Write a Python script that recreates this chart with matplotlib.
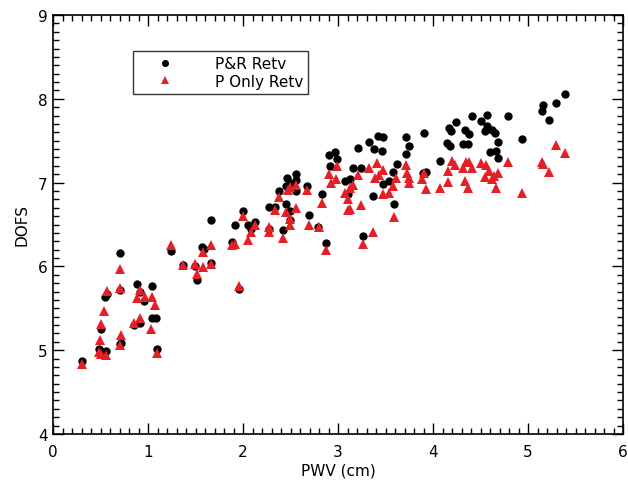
import matplotlib
matplotlib.use("Agg")
import matplotlib.pyplot as plt
import matplotlib.ticker as mticker

# P&R retrieval: PWV (cm) and degrees of freedom for signal
pr_pwv = [0.30, 0.48, 0.51, 0.56, 0.50, 0.55, 0.57, 0.705, 0.705, 0.705, 0.72,
          0.88, 0.92, 0.96, 1.04, 0.92, 0.85, 1.04, 1.08, 1.09, 1.24, 1.37,
          1.49, 1.52, 1.57, 1.59, 1.66, 1.66, 1.96, 1.88, 1.92, 2.00, 2.05,
          2.08, 2.13, 2.27, 2.34, 2.27, 2.42, 2.38, 2.45, 2.46, 2.49, 2.45,
          2.56, 2.56, 2.56, 2.49, 2.49, 2.67, 2.69, 2.79, 2.83, 2.87, 2.91,
          2.92, 2.97, 2.99, 3.07, 3.13, 3.11, 3.16, 3.24, 3.21, 3.26, 3.33,
          3.38, 3.42, 3.47, 3.46, 3.37, 3.47, 3.54, 3.58, 3.62, 3.59, 3.72,
          3.75, 3.72, 3.90, 3.89, 3.93, 4.07, 4.17, 4.15, 4.18, 4.19, 4.24,
          4.34, 4.38, 4.32, 4.37, 4.41, 4.51, 4.57, 4.57, 4.55, 4.62, 4.65,
          4.68, 4.66, 4.60, 4.68, 4.79, 4.94, 5.16, 5.15, 5.22, 5.29, 5.39]
pr_dofs = [4.87, 5.01, 4.99, 4.99, 5.25, 5.64, 5.67, 6.16, 5.72, 5.07, 5.08,
           5.79, 5.70, 5.59, 5.77, 5.32, 5.30, 5.38, 5.38, 5.01, 6.18, 6.02,
           6.00, 5.84, 6.23, 6.21, 6.55, 6.04, 5.73, 6.29, 6.49, 6.66, 6.50,
           6.45, 6.53, 6.71, 6.71, 6.45, 6.44, 6.90, 6.74, 7.06, 6.99, 6.96,
           7.10, 7.03, 6.90, 6.66, 6.55, 6.96, 6.61, 6.47, 6.86, 6.28, 7.33,
           7.20, 7.36, 7.28, 7.02, 7.04, 6.86, 7.18, 7.17, 7.41, 6.36, 7.49,
           7.40, 7.56, 7.54, 7.38, 6.84, 6.98, 7.02, 7.13, 7.22, 6.74, 7.54,
           7.44, 7.34, 7.59, 7.12, 7.13, 7.26, 7.65, 7.47, 7.44, 7.62, 7.72,
           7.63, 7.58, 7.46, 7.46, 7.80, 7.73, 7.81, 7.68, 7.62, 7.63, 7.59,
           7.48, 7.38, 7.36, 7.29, 7.79, 7.52, 7.93, 7.85, 7.75, 7.95, 8.06]

# P-only retrieval
p_pwv = [0.30, 0.48, 0.51, 0.56, 0.49, 0.50, 0.54, 0.565, 0.705, 0.705, 0.715,
         0.70, 0.88, 0.92, 0.97, 1.04, 1.07, 1.03, 0.92, 0.85, 1.09, 1.24,
         1.37, 1.49, 1.52, 1.58, 1.58, 1.66, 1.66, 1.96, 1.88, 1.92, 2.00,
         2.05, 2.08, 2.13, 2.27, 2.27, 2.34, 2.38, 2.42, 2.45, 2.47, 2.49,
         2.49, 2.49, 2.56, 2.56, 2.67, 2.69, 2.80, 2.83, 2.87, 2.91, 2.93,
         2.98, 2.99, 3.07, 3.13, 3.16, 3.11, 3.13, 3.10, 3.21, 3.24, 3.26,
         3.37, 3.33, 3.41, 3.39, 3.43, 3.47, 3.47, 3.54, 3.58, 3.61, 3.59,
         3.72, 3.73, 3.75, 3.75, 3.88, 3.91, 3.93, 4.07, 4.16, 4.16, 4.20,
         4.23, 4.32, 4.35, 4.38, 4.41, 4.34, 4.37, 4.51, 4.56, 4.59, 4.55,
         4.62, 4.64, 4.68, 4.66, 4.79, 4.94, 5.15, 5.16, 5.22, 5.29, 5.39]
p_dofs = [4.83, 4.98, 4.96, 4.94, 5.12, 5.31, 5.47, 5.71, 5.97, 5.74, 5.18,
          5.06, 5.62, 5.72, 5.64, 5.64, 5.54, 5.25, 5.38, 5.32, 4.97, 6.25,
          6.02, 6.03, 5.91, 6.17, 5.99, 6.26, 6.03, 5.77, 6.26, 6.27, 6.60,
          6.32, 6.41, 6.49, 6.47, 6.41, 6.67, 6.83, 6.34, 6.65, 6.91, 6.95,
          6.57, 6.49, 6.97, 6.70, 6.91, 6.49, 6.47, 6.76, 6.19, 7.10, 7.00,
          7.04, 7.20, 6.88, 6.93, 6.97, 6.80, 6.69, 6.67, 7.09, 6.73, 6.27,
          6.41, 7.17, 7.23, 7.05, 7.09, 7.15, 6.86, 6.88, 6.96, 7.05, 6.59,
          7.21, 7.12, 7.05, 7.00, 7.04, 7.12, 6.92, 6.93, 7.14, 7.01, 7.26,
          7.21, 7.18, 7.24, 7.24, 7.18, 7.02, 6.94, 7.23, 7.21, 7.14, 7.07,
          7.04, 7.08, 7.11, 6.94, 7.24, 6.88, 7.25, 7.22, 7.13, 7.45, 7.35]

plt.rcParams['font.family'] = ['DejaVu Sans']

fig = plt.figure(figsize=(6.28, 4.81), dpi=100)
ax = fig.add_axes([53 / 628, 46 / 481, 570 / 628, 419 / 481])

ax.plot(pr_pwv, pr_dofs, 'o', color='black', ms=6, mew=0, label='P&R Retv', zorder=2)
ax.plot(p_pwv, p_dofs, '^', color='#e41f26', ms=6.5, mew=0, label='P Only Retv', zorder=3)

ax.set_xlim(0, 6)
ax.set_ylim(4, 9)
ax.xaxis.set_major_locator(mticker.MultipleLocator(1))
ax.xaxis.set_minor_locator(mticker.MultipleLocator(0.1))
ax.yaxis.set_major_locator(mticker.MultipleLocator(1))
ax.yaxis.set_minor_locator(mticker.MultipleLocator(0.1))
ax.tick_params(which='both', direction='in', top=True, right=True,
               labelsize=11, width=1, color='black')
ax.tick_params(which='major', length=8)
ax.tick_params(which='minor', length=4)
ax.tick_params(axis='x', which='major', pad=7)
ax.tick_params(axis='y', which='major', pad=4)
for s in ax.spines.values():
    s.set_linewidth(1.2)

ax.set_xlabel('PWV (cm)', fontsize=11, labelpad=3)
ax.set_ylabel('DOFS', fontsize=11, labelpad=6)

leg = ax.legend(loc='upper left', bbox_to_anchor=(0.14, 0.914), numpoints=1,
                fontsize=11, frameon=True, fancybox=False, handlelength=3.5,
                handletextpad=1.5, borderpad=0.35, labelspacing=0.15,
                borderaxespad=0, markerscale=0.85)
leg.get_frame().set_edgecolor('black')
leg.get_frame().set_linewidth(1.0)

fig.savefig('out.png', dpi=100)
